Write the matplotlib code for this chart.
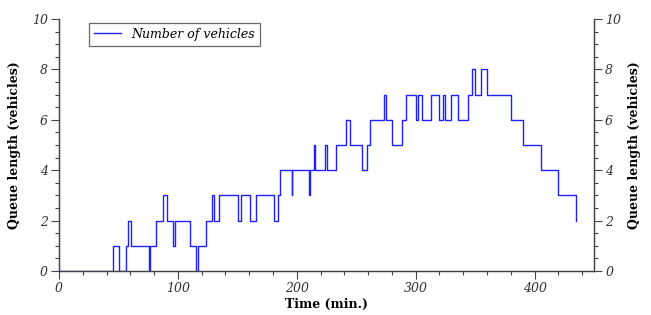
import matplotlib
matplotlib.use("Agg")
import matplotlib.pyplot as plt
from matplotlib.ticker import MultipleLocator

# change times (min.) and queue length after each change
times = [0, 45.6, 50.3, 56.5, 57.9, 60.6, 75.5, 76.9, 81.6, 87.5, 90.6, 95.6, 97.3,
         110.4, 115.5, 116.8, 123.8, 128.6, 130.3, 134.5, 150.7, 153.2, 160.5, 165.8,
         181.1, 184.5, 185.9, 195.7, 196.3, 210.3, 211.3, 214.7, 215.2, 223.9, 225.3,
         233.4, 241.2, 244.9, 255.2, 259.4, 261.4, 273.7, 275.3, 280.1, 288.2, 292.1,
         299.9, 301.6, 305.0, 312.5, 320.0, 322.8, 324.5, 329.3, 335.2, 344.4, 347.8,
         349.7, 354.7, 360.0, 379.9, 390.2, 405.0, 419.9, 434.6]
vehicles = [0, 1, 0, 1, 2, 1, 0, 1, 2, 3, 2, 1, 2,
            1, 0, 1, 2, 3, 2, 3, 2, 3, 2, 3,
            2, 3, 4, 3, 4, 3, 4, 5, 4, 5, 4,
            5, 6, 5, 4, 5, 6, 7, 6, 5, 6, 7,
            6, 7, 6, 7, 6, 7, 6, 7, 6, 7, 8,
            7, 8, 7, 6, 5, 4, 3, 2]

serif = "DejaVu Serif"
grey = "#444444"

fig = plt.figure(figsize=(6.51, 3.15), dpi=100)
ax = fig.add_axes([59 / 651, 1 - 271 / 315, 535 / 651, 252 / 315])

ax.step(times, vehicles, where="post", color="#2020ff", lw=1.0,
        label="Number of vehicles")

ax.set_xlim(0, 450)
ax.set_ylim(0, 10)
ax.xaxis.set_major_locator(MultipleLocator(100))
ax.xaxis.set_minor_locator(MultipleLocator(20))
ax.yaxis.set_major_locator(MultipleLocator(2))
ax.yaxis.set_minor_locator(MultipleLocator(0.5))

ax2 = ax.twinx()
ax2.set_ylim(0, 10)
ax2.yaxis.set_major_locator(MultipleLocator(2))
ax2.yaxis.set_minor_locator(MultipleLocator(0.5))

for a in (ax, ax2):
    a.spines["top"].set_visible(False)
    for s in a.spines.values():
        s.set_color(grey)
        s.set_linewidth(0.9)
    a.tick_params(which="both", direction="out", color=grey, width=0.8, pad=2.5)
    a.tick_params(which="major", length=5.5)
    a.tick_params(which="minor", length=3)
    for lab in a.get_xticklabels() + a.get_yticklabels():
        lab.set_family(serif)
        lab.set_style("italic")
        lab.set_fontsize(9)
        lab.set_color("#333333")

ax.set_xlabel("Time (min.)", family=serif, weight="bold", fontsize=9, labelpad=2)
ax.set_ylabel("Queue length (vehicles)", family=serif, weight="bold", fontsize=9, labelpad=8)
ax2.set_ylabel("Queue length (vehicles)", family=serif, weight="bold", fontsize=9,
               rotation=90, labelpad=5)

leg = ax.legend(loc="upper left", bbox_to_anchor=(0.056, 0.986), fancybox=False,
                prop={"family": serif, "style": "italic", "size": 9},
                handlelength=2.2, borderpad=0.4, borderaxespad=0)
leg.get_frame().set_edgecolor(grey)
leg.get_frame().set_linewidth(0.9)

fig.savefig("out.png", dpi=100)
